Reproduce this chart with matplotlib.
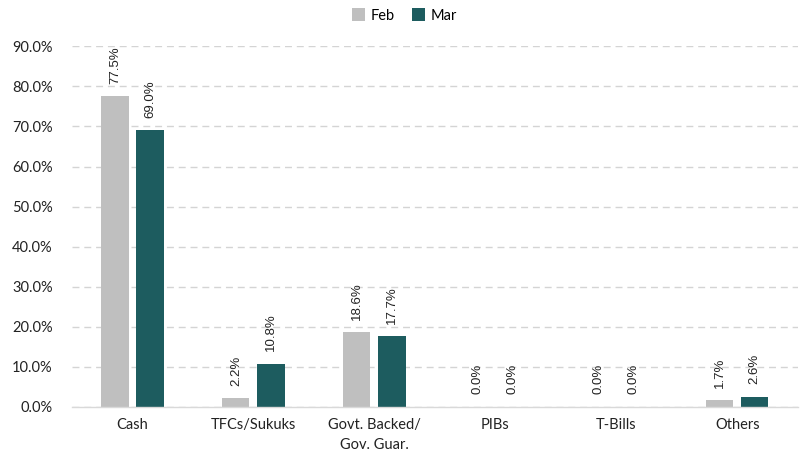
import numpy as np
import matplotlib.pyplot as plt
from matplotlib.ticker import PercentFormatter

categories = ['Cash', 'TFCs/Sukuks', 'Govt. Backed/\nGov. Guar.', 'PIBs', 'T-Bills', 'Others']
feb = [77.5, 2.2, 18.6, 0.0, 0.0, 1.7]
mar = [69.0, 10.8, 17.7, 0.0, 0.0, 2.6]

gray = '#BFBFBF'
teal = '#1D5C5F'

fig = plt.figure(figsize=(8.09, 4.63), dpi=100)
ax = fig.add_axes([0.089, 0.121, 0.897, 0.779])

x = np.arange(len(categories))
w = 0.225
off = 0.145
b1 = ax.bar(x - off, feb, w, color=gray, label='Feb', zorder=3)
b2 = ax.bar(x + off, mar, w, color=teal, label='Mar', zorder=3)

# rotated value labels above each bar
for bars, vals in ((b1, feb), (b2, mar)):
    for r, v in zip(bars, vals):
        ax.annotate(f'{v:.1f}%', (r.get_x() + r.get_width() / 2, r.get_height()),
                    xytext=(0, 9), textcoords='offset points', rotation=90,
                    ha='center', va='bottom', fontsize=9.5,
                    family='Liberation Sans', color='#222222')

ax.set_xlim(-0.5, len(categories) - 0.5)
ax.set_ylim(0, 90)
ax.set_yticks(np.arange(0, 91, 10))
ax.yaxis.set_major_formatter(PercentFormatter(decimals=1))
ax.set_xticks(x)
ax.set_xticklabels(categories, family='Lato', fontsize=10.5, linespacing=1.5)
for lbl in ax.get_yticklabels():
    lbl.set_family('Lato')
    lbl.set_fontsize(10.5)
ax.tick_params(length=0, pad=8, colors='#222222')
ax.tick_params(axis='y', pad=14)

ax.grid(axis='y', color='#D4D4D4', linestyle=(0, (5, 3.5)), linewidth=1, zorder=0)
for s in ['top', 'right', 'left']:
    ax.spines[s].set_visible(False)
ax.spines['bottom'].set_color('#D9D9D9')
ax.spines['bottom'].set_linewidth(1)
ax.spines['bottom'].set_zorder(4)

fig.legend(loc='upper center', bbox_to_anchor=(0.5, 1.01), ncol=2, frameon=False,
           handlelength=0.9, handleheight=0.9, handletextpad=0.4, columnspacing=1.2,
           prop={'family': 'Lato', 'size': 10.5})

plt.savefig('out.png', dpi=100)
